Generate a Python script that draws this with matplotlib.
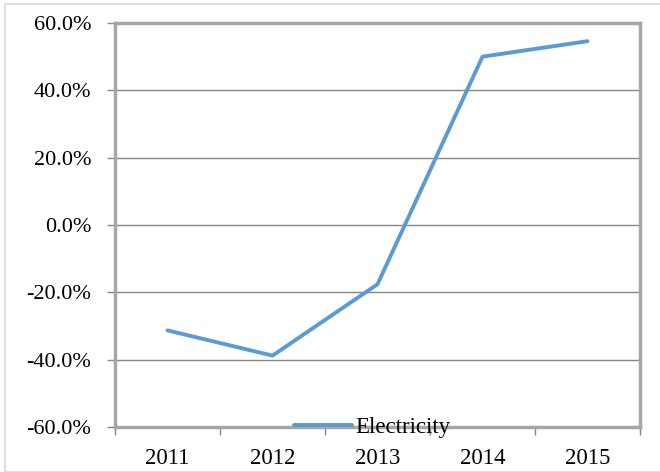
import matplotlib
matplotlib.use("Agg")
import matplotlib.pyplot as plt
from matplotlib.patches import Rectangle
from matplotlib.ticker import FuncFormatter, MultipleLocator

years = ["2011", "2012", "2013", "2014", "2015"]
electricity = [-31.3, -38.8, -17.6, 50.0, 54.6]

plt.rcParams['font.family'] = ['Liberation Serif', 'DejaVu Serif']

W, H = 660, 472
fig = plt.figure(figsize=(W / 100, H / 100), dpi=100)

# outer chart area border (partly cropped)
fig.patches.append(Rectangle((5 / W, 0), 1, 1 - 4 / H, transform=fig.transFigure,
                             fill=False, edgecolor="#d9d9d9", linewidth=1.2))

left, right, top, bottom = 115, 640, 23, 427
ax = fig.add_axes([left / W, 1 - bottom / H, (right - left) / W, (bottom - top) / H])

x = range(len(years))
ax.plot(x, electricity, color="#5B9BD5", linewidth=2.8, solid_capstyle="round",
        label="Electricity")

ax.set_xlim(-0.5, len(years) - 0.5)
ax.set_ylim(-60, 60)
ax.yaxis.set_major_locator(MultipleLocator(20))
ax.yaxis.set_major_formatter(FuncFormatter(lambda v, p: f"{v:.1f}%"))
ax.set_xticks(list(x))
ax.set_xticklabels(years)
ax.set_xticks([i - 0.5 for i in range(len(years) + 1)], minor=True)
ax.tick_params(axis="x", which="major", length=0, pad=15, labelsize=16.5)
ax.tick_params(axis="x", which="minor", length=6, color="#868686", width=1)
ax.tick_params(axis="y", length=6, color="#868686", width=1, labelsize=16, pad=11)

ax.grid(axis="y", color="#868686", linewidth=1)
ax.set_axisbelow(True)
for s in ax.spines.values():
    s.set_color("#a6a6a6")
    s.set_linewidth(2.5)

leg = ax.legend(loc="center", bbox_to_anchor=(0.49, 0.0), frameon=False,
                fontsize=16.5, handlelength=2.5, handletextpad=0.15)

fig.savefig("out.png", dpi=100)
